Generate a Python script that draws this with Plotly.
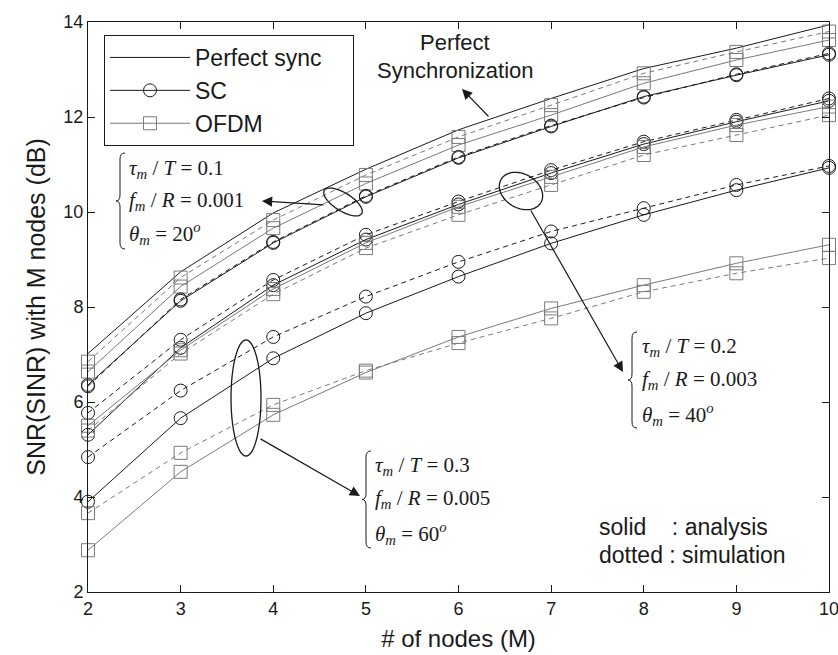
import numpy as np
import plotly.graph_objects as go

# ---------------- data ----------------
x_nodes = [2, 3, 4, 5, 6, 7, 8, 9, 10]
x_tick_labels = ["2", "3", "4", "5", "6", "7", "8", "9", "10"]
y_tick_vals = [2, 4, 6, 8, 10, 12, 14]

perfect_sync = [7.02, 8.74, 9.98, 10.90, 11.73, 12.39, 13.02, 13.45, 13.94]

# tau/T = 0.1 group
sc_ana_01 = [6.36, 8.13, 9.35, 10.32, 11.14, 11.80, 12.43, 12.88, 13.31]
sc_sim_01 = [6.33, 8.16, 9.37, 10.34, 11.16, 11.82, 12.41, 12.90, 13.34]
ofdm_ana_01 = [6.64, 8.43, 9.66, 10.60, 11.41, 12.04, 12.71, 13.20, 13.62]
ofdm_sim_01 = [6.85, 8.62, 9.83, 10.78, 11.58, 12.25, 12.92, 13.37, 13.80]

# tau/T = 0.2 group
sc_ana_02 = [5.31, 7.14, 8.46, 9.42, 10.16, 10.82, 11.43, 11.90, 12.34]
sc_sim_02 = [5.77, 7.31, 8.57, 9.52, 10.22, 10.88, 11.48, 11.94, 12.39]
ofdm_ana_02 = [5.50, 7.09, 8.38, 9.35, 10.11, 10.74, 11.37, 11.83, 12.22]
ofdm_sim_02 = [5.40, 7.02, 8.27, 9.24, 9.94, 10.57, 11.20, 11.62, 12.04]

# tau/T = 0.3 group
sc_ana_03 = [3.90, 5.66, 6.92, 7.87, 8.64, 9.34, 9.94, 10.46, 10.93]
sc_sim_03 = [4.84, 6.24, 7.37, 8.22, 8.95, 9.59, 10.08, 10.57, 10.97]
ofdm_ana_03 = [2.88, 4.53, 5.73, 6.62, 7.37, 7.97, 8.46, 8.92, 9.31]
ofdm_sim_03 = [3.66, 4.93, 5.94, 6.66, 7.24, 7.76, 8.32, 8.71, 9.03]

# ---------------- layout geometry (pixel coords) ----------------
W, H = 838, 655
ML, MT = 88, 22               # plot area left/top
PR, PB = 829, 592             # plot area right/bottom
PW, PH = PR - ML, PB - MT
X0, X1, Y0, Y1 = 2, 10, 2, 14


def d(px, py):
    """pixel position -> data coordinates"""
    return (X0 + (px - ML) / PW * (X1 - X0), Y1 - (py - MT) / PH * (Y1 - Y0))


BLACK = "#1a1a1a"
GRAY = "#7a7a7a"
DASH = "5px,4px"
MS = 13

fig = go.Figure()


def add(y, color, dash, symbol, name=None, legend=False):
    fig.add_trace(go.Scatter(
        x=x_nodes, y=y, mode="lines+markers" if symbol else "lines",
        name=name, showlegend=legend, legendgroup=name if legend else None,
        line=dict(color=color, width=1, dash=dash),
        marker=dict(symbol=symbol, size=MS, color=color,
                    line=dict(color=color, width=1)) if symbol else None,
        cliponaxis=False,
    ))


add(perfect_sync, BLACK, "solid", None, "Perfect sync" + "&nbsp;" * 4, True)
add(sc_ana_01, BLACK, "solid", "circle-open", "SC", True)
add(ofdm_ana_01, GRAY, "solid", "square-open", "OFDM", True)
add(sc_sim_01, BLACK, DASH, "circle-open")
add(ofdm_sim_01, GRAY, DASH, "square-open")
for sa, ss, oa, os_ in [(sc_ana_02, sc_sim_02, ofdm_ana_02, ofdm_sim_02),
                        (sc_ana_03, sc_sim_03, ofdm_ana_03, ofdm_sim_03)]:
    add(sa, BLACK, "solid", "circle-open")
    add(ss, BLACK, DASH, "circle-open")
    add(oa, GRAY, "solid", "square-open")
    add(os_, GRAY, DASH, "square-open")

shapes = []
annotations = []


def ellipse(cx, cy, a, b, ang_deg):
    t = np.linspace(0, 2 * np.pi, 73)
    ang = np.radians(ang_deg)
    px = cx + a * np.cos(t) * np.cos(ang) - b * np.sin(t) * np.sin(ang)
    py = cy + a * np.cos(t) * np.sin(ang) + b * np.sin(t) * np.cos(ang)
    pts = [d(u, v) for u, v in zip(px, py)]
    path = "M " + " L ".join(f"{u:.4f},{v:.4f}" for u, v in pts) + " Z"
    shapes.append(dict(type="path", path=path, xref="x", yref="y",
                       line=dict(color=BLACK, width=1.3)))


def brace(px, top, bot):
    mid = (top + bot) / 2
    w = 7
    p = [("M", px + w, top), ("Q", px + 2, top, px + 2, top + 6),
         ("L", px + 2, mid - 6), ("Q", px + 2, mid, px - 2, mid),
         ("Q", px + 2, mid, px + 2, mid + 6), ("L", px + 2, bot - 6),
         ("Q", px + 2, bot, px + w, bot)]
    parts = []
    for seg in p:
        coords = seg[1:]
        pts = []
        for i in range(0, len(coords), 2):
            u, v = d(coords[i], coords[i + 1])
            pts.append(f"{u:.4f},{v:.4f}")
        parts.append(seg[0] + " " + " ".join(pts))
    shapes.append(dict(type="path", path=" ".join(parts), xref="x", yref="y",
                       line=dict(color=BLACK, width=1)))


def arrow(tx, ty, fx, fy):
    x, y = d(tx, ty)
    ax, ay = d(fx, fy)
    annotations.append(dict(x=x, y=y, ax=ax, ay=ay, xref="x", yref="y",
                            axref="x", ayref="y", text="", showarrow=True,
                            arrowhead=2, arrowsize=1.7, arrowwidth=1.2,
                            arrowcolor=BLACK))


def text(px, py, s, size=20, family="Arial", xanchor="left"):
    x, y = d(px, py)
    annotations.append(dict(x=x, y=y, xref="x", yref="y", text=s,
                            showarrow=False, xanchor=xanchor, yanchor="middle",
                            font=dict(family=family, size=size, color=BLACK)))


SER = "Liberation Serif, Times New Roman, serif"


def param_block(px, y1, y2, y3, tau, fr, th):
    text(px, y1, f"<i>τ</i><sub><i>m</i></sub> / <i>T</i> = {tau}", 21, SER)
    text(px, y2, f"<i>f</i><sub><i>m</i></sub> / <i>R</i> = {fr}", 21, SER)
    text(px, y3, f"<i>θ</i><sub><i>m</i></sub> = {th}<sup><i>o</i></sup>", 21, SER)


# ellipses marking the curve groups
ellipse(343, 202, 22, 9, 32)
ellipse(521, 191, 23, 17, 30)
ellipse(246, 398, 15, 58, 0)

# parameter blocks with braces
brace(118, 153, 249)
param_block(127, 169, 201, 233, "0.1", "0.001", "20")
brace(630, 332, 428)
param_block(640, 347, 380, 414, "0.2", "0.003", "40")
brace(364, 451, 548)
param_block(373, 466, 499, 533, "0.3", "0.005", "60")

# arrows
arrow(262, 201, 325, 205)
arrow(623, 372, 530, 209)
arrow(360, 496, 259, 438)
arrow(462, 89, 490, 118)

# labels
text(455, 42, "Perfect", 22, "Arial", "center")
text(455, 70, "Synchronization", 22, "Arial", "center")
text(597, 527, "solid&nbsp;&nbsp;&nbsp;&nbsp;: analysis", 23)
text(597, 555, "dotted : simulation", 23)

axis_common = dict(showline=True, linecolor=BLACK, linewidth=1, mirror="ticks",
                   ticks="inside", ticklen=7, tickcolor=BLACK, showgrid=False,
                   zeroline=False, automargin=False,
                   tickfont=dict(family="Arial", size=18, color=BLACK))

fig.update_layout(
    width=W, height=H,
    margin=dict(l=ML, r=W - PR, t=MT, b=H - PB),
    paper_bgcolor="white", plot_bgcolor="white",
    xaxis=dict(range=[X0, X1], tickvals=x_nodes, ticktext=x_tick_labels,
               ticklabeloverflow="allow",
               title=dict(text="# of nodes (M)", standoff=12,
                          font=dict(family="Arial", size=24, color=BLACK)),
               **axis_common),
    yaxis=dict(range=[Y0, Y1], tickvals=y_tick_vals,
               title=dict(text="SNR(SINR) with M nodes (dB)", standoff=10,
                          font=dict(family="Arial", size=25, color=BLACK)),
               **axis_common),
    legend=dict(x=(104 - ML) / PW, y=(PB - 35) / PH, xanchor="left", yanchor="top",
                bordercolor=BLACK, borderwidth=1, bgcolor="white",
                font=dict(family="Arial", size=23, color=BLACK),
                itemwidth=80, tracegroupgap=0),
    shapes=shapes,
    annotations=annotations,
)

# remove the default 8px page margin so the 838x655 figure fills the window exactly
fig.write_html("out.html", config={"displayModeBar": False},
               post_script="document.body.style.margin='0';")
